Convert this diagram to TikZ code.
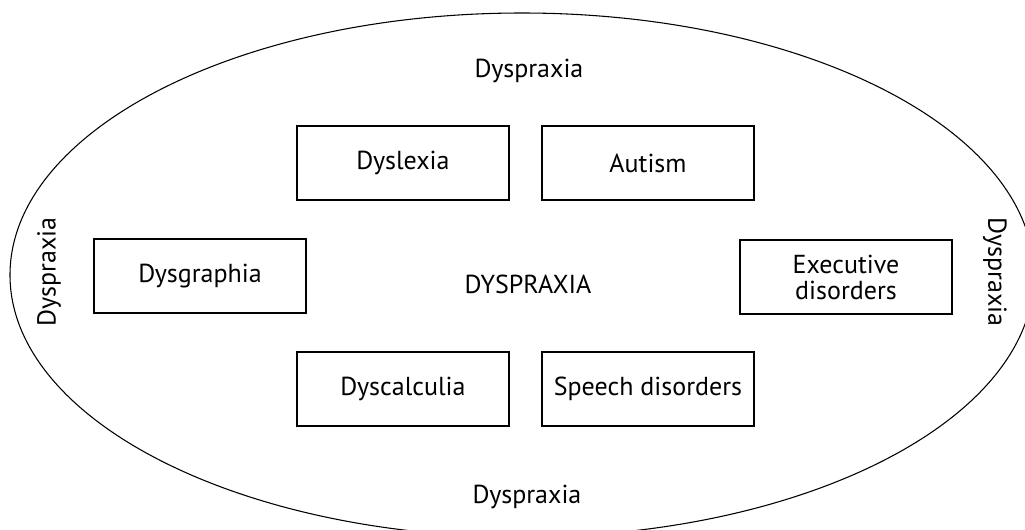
\documentclass[tikz,border=0pt]{standalone}
\usepackage{fontspec}
\setmainfont{PT Sans}
\usepackage{tikz}
\usetikzlibrary{positioning,shapes.geometric}

\begin{document}
\begin{tikzpicture}[x=0.75pt,y=-0.75pt,every node/.style={font=\fontsize{19.5}{19.5}\selectfont}]
    \tikzstyle{disorder}=[rectangle,draw,line width=0.8pt,minimum width=159pt,minimum height=55.5pt,
                          inner sep=2pt,align=center];
    \tikzstyle{outer}=[inner sep=0pt];
    \useasboundingbox (0,0) rectangle (1025,529);
    % --- outer ellipse ---
    \node[ellipse,draw,line width=0.8pt,minimum width=768pt,minimum height=393pt,inner sep=0pt]
      (rim) at (522,275) {};
    % --- labels along the rim ---
    \node[outer] (top)    at (529,71)  {Dyspraxia};
    \node[outer] (bottom) at (527,497) {Dyspraxia};
    \node[outer,rotate=90]  (left)  at (49,272)  {Dyspraxia};
    \node[outer,rotate=-90] (right) at (995,272) {Dyspraxia};
    % --- centre ---
    \node[outer] (core) at (528,284) {DYSPRAXIA};
    % --- boxes ---
    \node[disorder] (dyslexia)  at (403,163) {Dyslexia};
    \node[disorder] (autism)    at (648,163) {Autism};
    \node[disorder] (dysgraph)  at (200,276) {Dysgraphia};
    \node[disorder] (exec)      at (846,277) {Executive\\disorders};
    \node[disorder] (dyscalc)   at (403,389) {Dyscalculia};
    \node[disorder] (speech)    at (648,389) {Speech disorders};
\end{tikzpicture}
\end{document}
